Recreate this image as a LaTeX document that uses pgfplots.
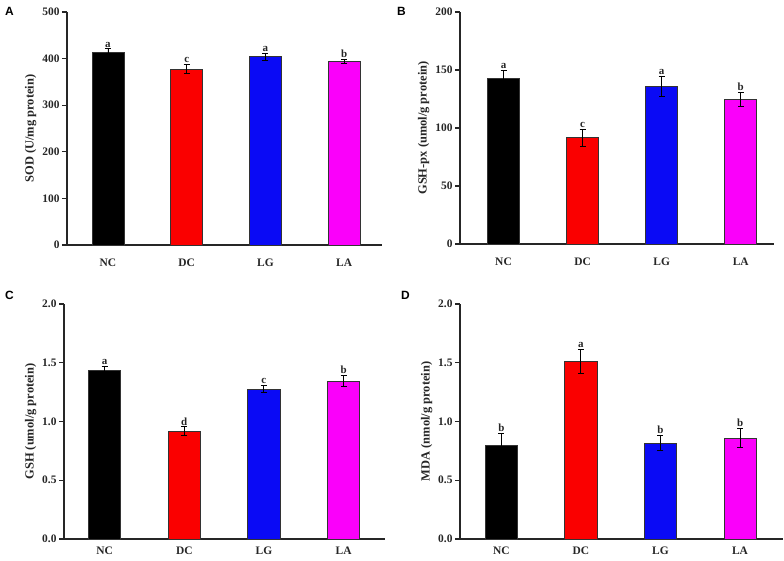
\documentclass[border=0pt]{standalone}
\usepackage{fontspec}
\setmainfont{Liberation Serif}
\newfontfamily\panelfont{Liberation Sans}
\usepackage{pgfplots}
\pgfplotsset{compat=1.18}
\definecolor{mblue}{RGB}{10,10,245}
\definecolor{mred}{RGB}{250,0,0}
\definecolor{mmag}{RGB}{250,0,250}
\pgfplotsset{
  panel/.style={
    scale only axis,
    ylabel near ticks,
    axis lines=left,
    axis line style={-, line width=1.2bp, black!85},
    ymin=0,
    xtick={0,1,2,3},
    xticklabels={NC,DC,LG,LA},
    x tick style={draw=none},
    y tick style={line width=1.2bp, black!85},
    tick align=outside,
    major tick length=5bp,
    ytick pos=left,
    xtick pos=bottom,
    ticklabel style={font=\fontsize{11.5}{12}\selectfont\bfseries, text=black!85},
    yticklabel style={xshift=1bp},
    /pgf/number format/assume math mode=true,
    ylabel style={font=\fontsize{12.5}{13}\selectfont\bfseries, text=black!85, yshift=-1bp},
    clip=false,
  },
  bars/.style={ybar, bar shift=0pt, bar width=0.405, draw=black!80, line width=0.7bp,
    error bars/y dir=both, error bars/y explicit,
    error bars/error bar style={line width=0.9bp, black},
    error bars/error mark options={rotate=90, mark size=3bp, line width=0.9bp, black}},
  letters/.style={only marks, mark=none, nodes near coords, point meta=explicit symbolic,
    nodes near coords style={anchor=south, font=\fontsize{11}{12}\selectfont\bfseries, text=black!85, inner sep=1.5bp}},
}
\begin{document}
\begin{tikzpicture}
\path[use as bounding box] (0,0) rectangle (784bp,-561bp);
% Panel A
\begin{axis}[panel, at={(67bp,-245bp)}, anchor=south west, width=315bp, height=233bp,
  xmin=-0.52, xmax=3.48, ymax=500, ytick={0,100,...,500},
  xticklabel style={yshift=-5bp},
  ylabel={SOD (U/mg protein)}]
\addplot[bars, fill=black] coordinates {(0,413) +- (0,8)};
\addplot[bars, fill=mred] coordinates {(1,378) +- (0,10)};
\addplot[bars, fill=mblue] coordinates {(2,404) +- (0,7)};
\addplot[bars, fill=mmag] coordinates {(3,394) +- (0,5)};
\addplot[letters] table[x=x, y expr=\thisrow{y}+\thisrow{e}, meta=lab] {
x y e lab
0 413 8 a
1 378 10 c
2 404 7 a
3 394 5 b
};
\end{axis}
\node[font=\panelfont\bfseries\fontsize{12}{13}\selectfont, anchor=north west, inner sep=0pt] at (5bp,-7bp) {A};
% Panel B
\begin{axis}[panel, at={(460bp,-244bp)}, anchor=south west, width=314bp, height=232bp,
  xmin=-0.55, xmax=3.42, ymax=200, ytick={0,50,...,200},
  xticklabel style={yshift=-5bp},
  ylabel={GSH-px (umol/g protein)}]
\addplot[bars, fill=black] coordinates {(0,142.5) +- (0,7)};
\addplot[bars, fill=mred] coordinates {(1,91.6) +- (0,7.5)};
\addplot[bars, fill=mblue] coordinates {(2,135.6) +- (0,8.8)};
\addplot[bars, fill=mmag] coordinates {(3,124.4) +- (0,6)};
\addplot[letters] table[x=x, y expr=\thisrow{y}+\thisrow{e}, meta=lab] {
x y e lab
0 142.5 7 a
1 91.6 7.5 c
2 135.6 8.8 a
3 124.4 6 b
};
\end{axis}
\node[font=\panelfont\bfseries\fontsize{12}{13}\selectfont, anchor=north west, inner sep=0pt] at (397bp,-7bp) {B};
% Panel C
\begin{axis}[panel, at={(64bp,-539bp)}, anchor=south west, width=321bp, height=235bp,
  xmin=-0.51, xmax=3.52, ymax=2, ytick={0,0.5,...,2},
  xticklabel style={inner sep=1.5bp, yshift=-1bp},
  yticklabel style={/pgf/number format/.cd, fixed, fixed zerofill, precision=1},
  ylabel={GSH (umol/g protein)}]
\addplot[bars, fill=black] coordinates {(0,1.435) +- (0,0.035)};
\addplot[bars, fill=mred] coordinates {(1,0.919) +- (0,0.035)};
\addplot[bars, fill=mblue] coordinates {(2,1.274) +- (0,0.03)};
\addplot[bars, fill=mmag] coordinates {(3,1.345) +- (0,0.045)};
\addplot[letters] table[x=x, y expr=\thisrow{y}+\thisrow{e}, meta=lab] {
x y e lab
0 1.435 0.035 a
1 0.919 0.035 d
2 1.274 0.03 c
3 1.345 0.045 b
};
\end{axis}
\node[font=\panelfont\bfseries\fontsize{12}{13}\selectfont, anchor=north west, inner sep=0pt] at (5bp,-291bp) {C};
% Panel D
\begin{axis}[panel, at={(460bp,-539bp)}, anchor=south west, width=323bp, height=235bp,
  xmin=-0.52, xmax=3.54, ymax=2, ytick={0,0.5,...,2},
  xticklabel style={inner sep=1.5bp, yshift=-1bp},
  yticklabel style={/pgf/number format/.cd, fixed, fixed zerofill, precision=1},
  ylabel={MDA (nmol/g protein)}]
\addplot[bars, fill=black] coordinates {(0,0.794) +- (0,0.105)};
\addplot[bars, fill=mred] coordinates {(1,1.512) +- (0,0.1)};
\addplot[bars, fill=mblue] coordinates {(2,0.817) +- (0,0.062)};
\addplot[bars, fill=mmag] coordinates {(3,0.86) +- (0,0.079)};
\addplot[letters] table[x=x, y expr=\thisrow{y}+\thisrow{e}, meta=lab] {
x y e lab
0 0.794 0.105 b
1 1.512 0.1 a
2 0.817 0.062 b
3 0.86 0.079 b
};
\end{axis}
\node[font=\panelfont\bfseries\fontsize{12}{13}\selectfont, anchor=north west, inner sep=0pt] at (401bp,-291bp) {D};
\end{tikzpicture}
\end{document}
